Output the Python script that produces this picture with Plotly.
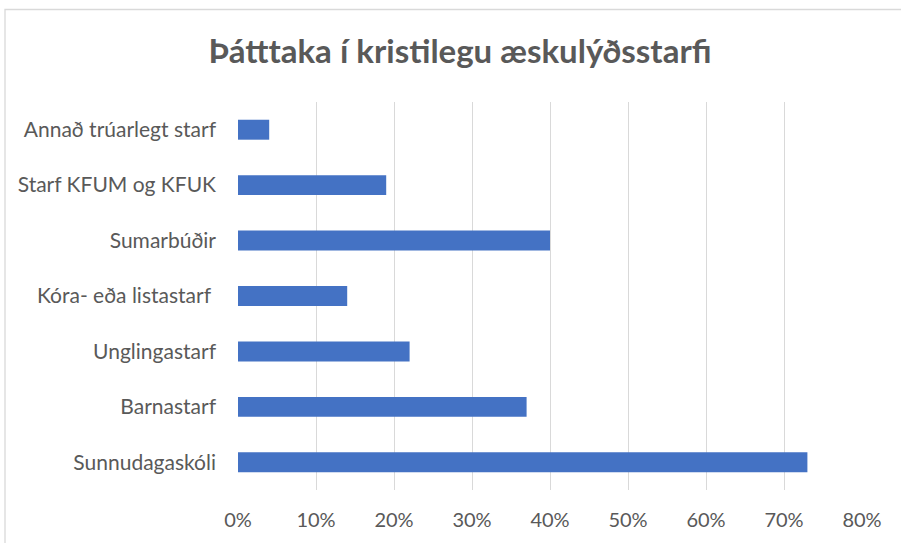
import plotly.graph_objects as go

categories = ["Sunnudagaskóli", "Barnastarf", "Unglingastarf", "Kóra- eða listastarf ",
              "Sumarbúðir", "Starf KFUM og KFUK", "Annað trúarlegt starf"]
values = [0.73, 0.37, 0.22, 0.14, 0.40, 0.19, 0.04]
tick_vals = [0, 0.1, 0.2, 0.3, 0.4, 0.5, 0.6, 0.7, 0.8]
tick_text = ["0%", "10%", "20%", "30%", "40%", "50%", "60%", "70%", "80%"]
title_text = "Þátttaka í kristilegu æskulýðsstarfi"

W, H = 901, 543
L, R, T, B = 238, 39, 102, 51

fig = go.Figure(go.Bar(
    x=values, y=categories, orientation="h",
    marker=dict(color="#4472C4", line=dict(width=0)),
    width=0.36,
))

font_family = "Lato, 'Open Sans', sans-serif"
fig.update_layout(
    width=W, height=H,
    margin=dict(l=L, r=R, t=T, b=B),
    paper_bgcolor="white", plot_bgcolor="white",
    showlegend=False,
    title=dict(text="<b>" + title_text + "</b>", x=460 / W, xanchor="center",
               xref="container",
               y=1 - 51 / H, yanchor="middle", yref="container",
               font=dict(family=font_family, size=33, color="#595959")),
    xaxis=dict(range=[0, 0.8], tickvals=tick_vals, ticktext=tick_text,
               showgrid=True, gridcolor="#D9D9D9", gridwidth=1.3,
               zeroline=False, showline=False, ticks="",
               ticklabelstandoff=16,
               tickfont=dict(family=font_family, size=20, color="#595959")),
    yaxis=dict(categoryorder="array", categoryarray=categories,
               range=[-0.5, 6.5], showgrid=False, zeroline=False, showline=False,
               ticks="", ticklabelstandoff=21,
               tickfont=dict(family=font_family, size=21, color="#595959")),
)

pw = W - L - R
ph = H - T - B
fig.add_shape(type="rect", xref="paper", yref="paper",
              x0=(5 - L) / pw, x1=(W + 10 - L) / pw,
              y0=-(H + 10 - T - ph) / ph, y1=1 + (T - 9) / ph,
              line=dict(color="#D9D9D9", width=1.3), fillcolor="rgba(0,0,0,0)",
              layer="below")

fig.write_html("out.html",
               config={"displayModeBar": False},
               post_script="document.body.style.margin='0';document.body.style.padding='0';document.body.style.overflow='hidden';")
